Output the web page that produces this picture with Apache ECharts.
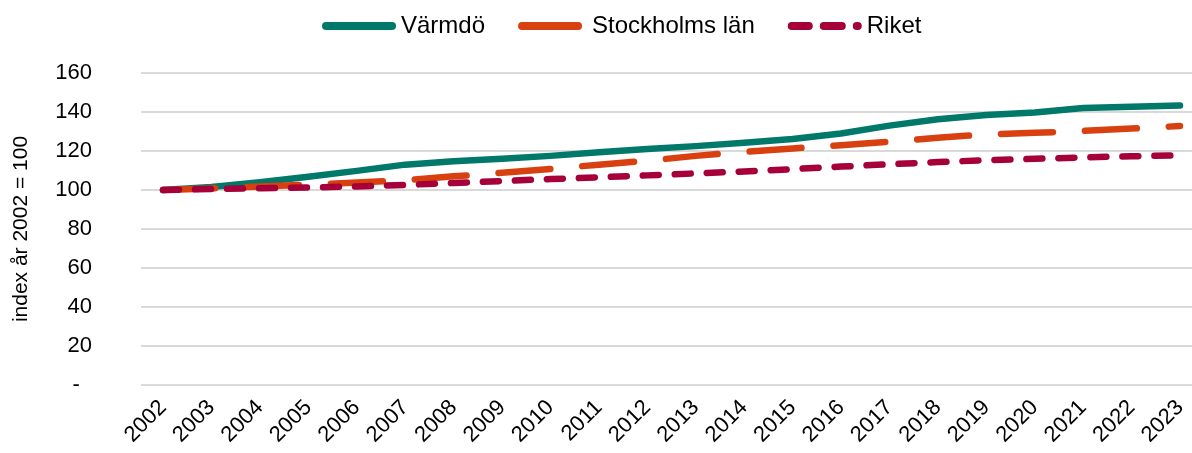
<!DOCTYPE html>
<html>
<head>
<meta charset="utf-8">
<script src="https://cdn.jsdelivr.net/npm/echarts@6/dist/echarts.min.js"></script>
<style>
  html, body { margin: 0; padding: 0; background: #fff; }
  #main { width: 1192px; height: 453px; }
</style>
</head>
<body>
<div id="main"></div>
<script>
// index, år 2002 = 100
const years = ['2002', '2003', '2004', '2005', '2006', '2007', '2008', '2009', '2010', '2011', '2012',
  '2013', '2014', '2015', '2016', '2017', '2018', '2019', '2020', '2021', '2022', '2023'];
const varmdo = [100, 101.5, 104, 106.8, 109.8, 113, 114.8, 116, 117.5, 119.3, 121,
  122.5, 124.2, 126.2, 129, 133, 136.3, 138.5, 139.8, 142, 142.7, 143.3];
const stockholm = [100, 100.8, 101.8, 102.8, 103.8, 105, 107, 108.8, 110.8, 113, 115,
  117.5, 119.5, 121.3, 123, 124.8, 126.8, 128.5, 129.3, 130.3, 131.5, 132.8];
const riket = [100, 100.5, 100.9, 101.3, 101.8, 102.6, 103.6, 104.6, 105.6, 106.5, 107.5,
  108.5, 109.5, 110.7, 112, 113.2, 114.3, 115.3, 116, 116.7, 117.3, 117.8];

const font = '"Liberation Sans", Arial, sans-serif';
const chart = echarts.init(document.getElementById('main'), null, {renderer: 'canvas'});

// rounded bar segments for the legend icons (x ranges inside a 74 x 8 box)
function bars(segs) {
  return 'path://' + segs.map(([a, b]) =>
    `M${a + 4},0 H${b - 4} A4,4 0 0 1 ${b - 4},8 H${a + 4} A4,4 0 0 1 ${a + 4},0 Z`).join(' ');
}

function serie(name, data, color, dash) {
  return {
    name,
    type: 'line',
    data,
    xAxisIndex: 0,
    yAxisIndex: 0,
    symbol: 'none',
    lineStyle: { color, width: 6.5, type: dash, cap: 'round', join: 'round' },
    itemStyle: { color }
  };
}

chart.setOption({
  animation: false,
  textStyle: { fontFamily: font },
  legend: {
    top: 9,
    left: 317,
    itemWidth: 74,
    itemHeight: 8,
    itemGap: 33,
    itemStyle: { borderWidth: 0 },
    textStyle: { fontSize: 24, color: '#000', fontFamily: font },
    data: [
      { name: 'Värmdö', icon: bars([[0, 74]]) },
      { name: 'Stockholms län', icon: bars([[0, 64]]) },
      { name: 'Riket', icon: bars([[0, 25], [32, 58], [65, 74]]) }
    ]
  },
  grid: [
    // data area: category centres from 2002 to 2023
    { left: 163, right: 12, top: 73, bottom: 68 },
    // frame: gridlines and value labels
    { left: 141, right: 0, top: 73, bottom: 68 }
  ],
  xAxis: [
    {
      type: 'category',
      gridIndex: 0,
      data: years,
      boundaryGap: false,
      axisLine: { show: false },
      axisTick: { show: false },
      splitLine: { show: false },
      axisLabel: { rotate: 45, fontSize: 22, color: '#000', margin: 19, fontFamily: font, interval: 0 }
    },
    { type: 'value', gridIndex: 1, show: false }
  ],
  yAxis: [
    { type: 'value', gridIndex: 0, min: 0, max: 160, interval: 20, show: false },
    {
      type: 'value',
      gridIndex: 1,
      min: 0,
      max: 160,
      interval: 20,
      name: 'index år 2002 = 100',
      nameLocation: 'middle',
      nameRotate: 90,
      nameGap: 109,
      nameTextStyle: { fontSize: 21, color: '#000', fontFamily: font },
      axisLine: { show: false },
      axisTick: { show: false },
      splitLine: { lineStyle: { color: '#d9d9d9', width: 2 } },
      axisLabel: {
        fontSize: 22, color: '#000', margin: 49, fontFamily: font,
        formatter: v => (v === 0 ? '-  ' : String(v))
      }
    }
  ],
  series: [
    serie('Värmdö', varmdo, '#00796b', 'solid'),
    serie('Stockholms län', stockholm, '#d9400f', [52, 32]),
    serie('Riket', riket, '#a5003a', [16, 16])
  ]
});
</script>
</body>
</html>
